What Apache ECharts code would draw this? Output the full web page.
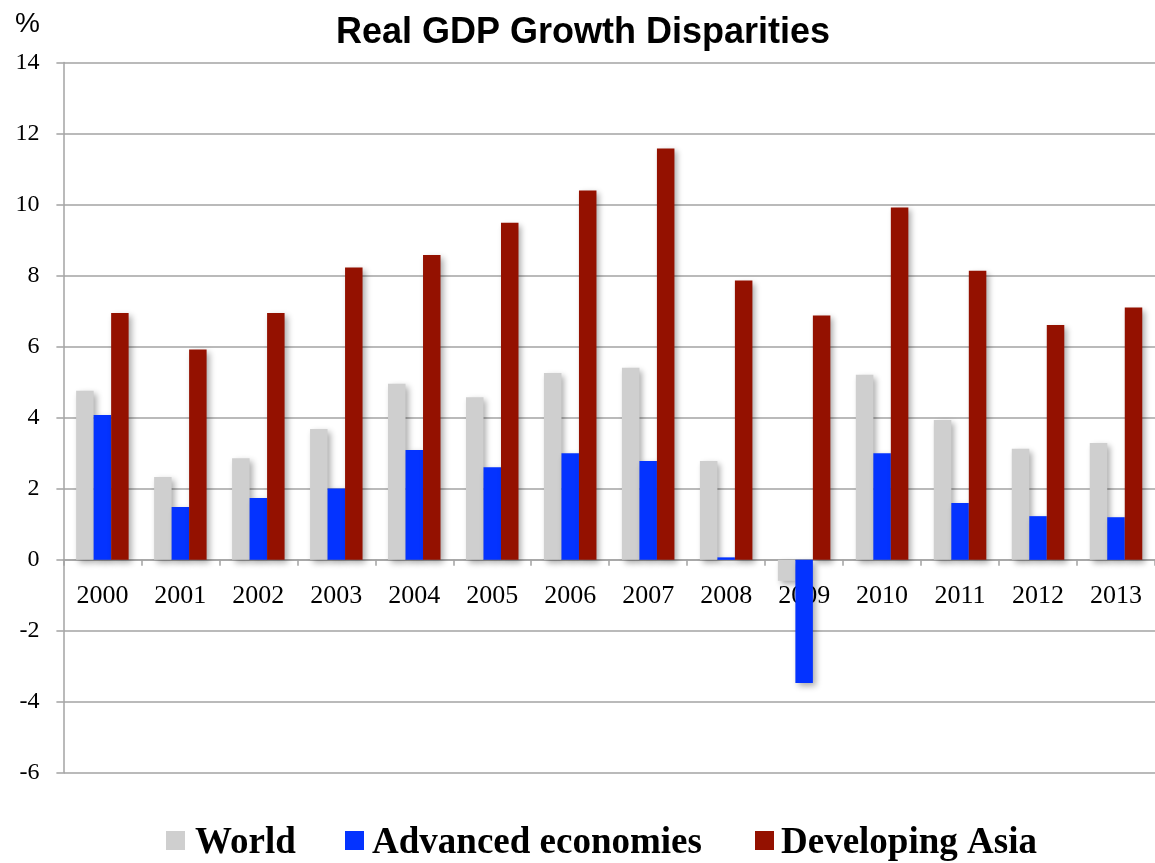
<!DOCTYPE html>
<html>
<head>
<meta charset="utf-8">
<title>Real GDP Growth Disparities</title>
<script src="https://cdn.jsdelivr.net/npm/echarts@6/dist/echarts.min.js"></script>
<style>
  html, body { margin: 0; padding: 0; background: #ffffff; }
  #chart { width: 1155px; height: 863px; }
</style>
</head>
<body>
<div id="chart"></div>
<script>
// Annual real GDP growth, percent
const years = ['2000', '2001', '2002', '2003', '2004', '2005', '2006',
               '2007', '2008', '2009', '2010', '2011', '2012', '2013'];
const world = [4.76, 2.33, 2.86, 3.68, 4.96, 4.58, 5.26, 5.41, 2.78, -0.59, 5.21, 3.94, 3.13, 3.29];
const advancedEconomies = [4.08, 1.49, 1.74, 2.01, 3.09, 2.61, 3.0, 2.78, 0.07, -3.47, 3.0, 1.6, 1.23, 1.2];
const developingAsia = [6.95, 5.92, 6.95, 8.23, 8.58, 9.49, 10.4, 11.58, 7.86, 6.88, 9.92, 8.14, 6.61, 7.1];
const seriesNames = ['World', 'Advanced economies', 'Developing Asia'];
const yTicks = { min: -6, max: 14, step: 2 };

const SERIF = "'Liberation Serif', 'Times New Roman', serif";
const SANS = "'Liberation Sans', Arial, sans-serif";
const GRID_GREY = '#a3a3a3';

const colors = ['#cfcfcf', '#0433ff', '#941100'];

// plot rectangle
const GRID_LEFT = 63.4;
const GRID_TOP = 62.5;
const GRID_BOTTOM = 90;
const CHART_H = 863;
const plotHeight = CHART_H - GRID_TOP - GRID_BOTTOM;
// distance from the bottom edge of the plot up to the zero line, so the
// category axis (line, ticks and year labels) sits on zero
const zeroLift = plotHeight * (0 - yTicks.min) / (yTicks.max - yTicks.min);

const chart = echarts.init(document.getElementById('chart'), null, { renderer: 'canvas' });

function barSeries(name, data, color) {
  return {
    name: name,
    type: 'bar',
    data: data,
    barWidth: 17.5,
    barGap: '0%',
    itemStyle: {
      color: color,
      shadowColor: 'rgba(0, 0, 0, 0.33)',
      shadowBlur: 6,
      shadowOffsetX: 3,
      shadowOffsetY: 3
    },
    emphasis: { disabled: true }
  };
}

// one legend block per series so each swatch can sit at its own x
function legendAt(name, left, gap) {
  return {
    data: [name],
    left: left,
    top: 825,
    padding: 0,
    itemWidth: 19,
    itemHeight: 19,
    icon: 'rect',
    selectedMode: false,
    formatter: '{t|{name}}',
    textStyle: {
      fontFamily: SERIF,
      fontWeight: 'bold',
      fontSize: 37,
      color: '#000000',
      rich: {
        t: {
          fontFamily: SERIF,
          fontWeight: 'bold',
          fontSize: 37,
          color: '#000000',
          padding: [6, 0, 0, gap]
        }
      }
    }
  };
}

const option = {
  animation: false,
  backgroundColor: '#ffffff',
  color: colors,
  title: [
    {
      text: 'Real GDP Growth Disparities',
      left: 336,
      top: 15,
      padding: 0,
      textStyle: { fontFamily: SANS, fontWeight: 'bold', fontSize: 36, color: '#000000' }
    },
    {
      text: '%',
      left: 15,
      top: 10,
      padding: 0,
      textStyle: { fontFamily: SANS, fontWeight: 'normal', fontSize: 28, color: '#000000' }
    }
  ],
  legend: [
    legendAt(seriesNames[0], 166, 5),
    legendAt(seriesNames[1], 345, 3),
    legendAt(seriesNames[2], 755, 2)
  ],
  grid: {
    left: GRID_LEFT,
    top: GRID_TOP,
    width: 1096,
    bottom: GRID_BOTTOM,
    containLabel: false
  },
  xAxis: {
    type: 'category',
    data: years,
    position: 'bottom',
    offset: -zeroLift,
    axisLine: { onZero: false, lineStyle: { color: GRID_GREY, width: 1.5 } },
    axisTick: { show: true, inside: false, length: 6, alignWithLabel: false, lineStyle: { color: GRID_GREY, width: 1.5 } },
    axisLabel: { margin: 23, fontFamily: SERIF, fontSize: 26, color: '#000000' },
    splitLine: { show: false }
  },
  yAxis: {
    type: 'value',
    min: yTicks.min,
    max: yTicks.max,
    interval: yTicks.step,
    axisLine: { show: true, lineStyle: { color: GRID_GREY, width: 1.5 } },
    axisTick: { show: true, inside: false, length: 7, lineStyle: { color: GRID_GREY, width: 1.5 } },
    axisLabel: { margin: 24, fontFamily: SERIF, fontSize: 24, color: '#000000', padding: [8, 0, 0, 0] },
    splitLine: { show: true, lineStyle: { color: GRID_GREY, width: 1.5 } }
  },
  series: [
    barSeries(seriesNames[0], world, colors[0]),
    barSeries(seriesNames[1], advancedEconomies, colors[1]),
    barSeries(seriesNames[2], developingAsia, colors[2])
  ]
};

chart.setOption(option);
</script>
</body>
</html>
